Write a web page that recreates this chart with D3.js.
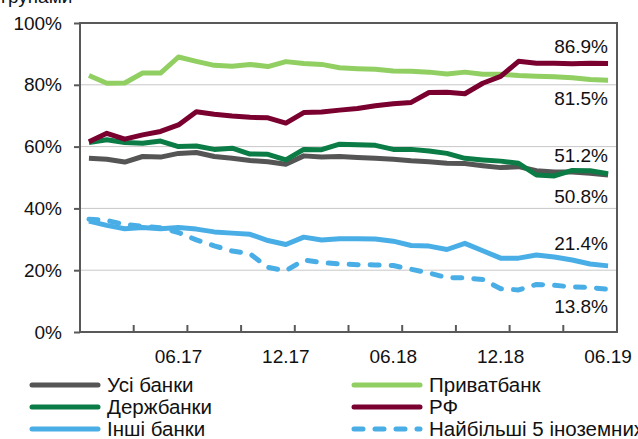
<!DOCTYPE html>
<html>
<head>
<meta charset="utf-8">
<script src="https://cdn.jsdelivr.net/npm/d3@7"></script>
<style>
  body { margin: 0; background: #fff; }
  svg text { font-family: "Liberation Sans", Arial, sans-serif; fill: #111; }
</style>
</head>
<body>
<div id="content"></div>
<script>
// months 01.17 .. 06.19
const months = [];
for (let y = 17; y <= 19; y++) {
    for (let m = 1; m <= 12; m++) {
        if (y === 19 && m > 6) break;
        months.push((m < 10 ? '0' + m : '' + m) + '.' + y);
    }
}
const xLabels = ['06.17', '12.17', '06.18', '12.18', '06.19'];
const yTicks = [0, 20, 40, 60, 80, 100];

const seriesNames = ['Усі банки', 'Приватбанк', 'Держбанки', 'РФ', 'Інші банки', 'Найбільші 5 іноземних'];
const usiBanky = [56.2, 55.9, 55.0, 56.8, 56.6, 57.8, 58.1, 56.8, 56.2, 55.5, 55.1, 54.3, 57.0, 56.6, 56.8, 56.5, 56.2, 55.9, 55.4, 55.1, 54.6, 54.5, 53.8, 53.2, 53.5, 52.2, 51.8, 51.8, 51.4, 50.8];
const pryvatbank = [83.0, 80.5, 80.6, 83.8, 83.8, 89.0, 87.6, 86.3, 86.0, 86.6, 85.9, 87.5, 86.9, 86.6, 85.5, 85.2, 85.0, 84.5, 84.4, 84.1, 83.5, 84.1, 83.4, 83.4, 83.0, 82.8, 82.6, 82.3, 81.7, 81.5];
const derzhbanky = [61.3, 62.2, 61.3, 61.1, 61.8, 60.0, 60.2, 59.1, 59.5, 57.6, 57.5, 55.7, 59.1, 59.0, 60.8, 60.6, 60.4, 59.1, 59.1, 58.6, 57.8, 56.2, 55.7, 55.3, 54.6, 50.8, 50.5, 52.3, 52.2, 51.2];
const rf = [61.6, 64.3, 62.4, 63.8, 64.9, 67.0, 71.3, 70.5, 69.9, 69.5, 69.3, 67.6, 71.0, 71.2, 71.8, 72.3, 73.2, 73.9, 74.3, 77.5, 77.6, 77.1, 80.5, 82.7, 87.6, 87.0, 87.0, 86.8, 87.0, 86.9];
const inshiBanky = [35.9, 34.5, 33.4, 33.8, 33.4, 33.8, 33.3, 32.4, 32.0, 31.6, 29.6, 28.3, 30.7, 29.8, 30.2, 30.2, 30.1, 29.4, 28.0, 27.8, 26.7, 28.7, 26.3, 23.9, 23.9, 24.9, 24.3, 23.3, 22.0, 21.4];
const top5Foreign = [36.5, 36.1, 34.8, 34.2, 33.7, 32.2, 29.8, 27.9, 26.2, 25.3, 20.9, 19.8, 23.3, 22.5, 22.0, 21.8, 21.7, 21.5, 20.3, 19.1, 17.6, 17.5, 17.0, 14.0, 13.6, 15.4, 15.1, 14.6, 14.4, 13.8];

const allSeries = [usiBanky, pryvatbank, derzhbanky, rf, inshiBanky, top5Foreign];
const colors = ['#555555', '#92cf63', '#0b7c45', '#7a0030', '#4aaee6', '#4aaee6'];
const dashed = [false, false, false, false, false, true];
// end-label placement: above (-) or below (+) the last point
const labelOffset = [28, 25, -12, -10, -16, 24];

window.addEventListener('load', function () {
    let width = 638;
    let height = 439;
    let left = 80, right = 617, top = 23, bottom = 332;

    let svg = d3.select('#content').append('svg').attr('width', width).attr('height', height);

    let xScale = d3.scaleBand().domain(months).range([left, right]);
    let yScale = d3.scaleLinear().domain([0, 100]).range([bottom, top]);
    let cx = m => xScale(m) + xScale.bandwidth() / 2;

    // title fragment, cut off at the top like the source
    svg.append('text').text('групами').attr('x', 1).attr('y', 3).style('font-size', '19px');

    // gridlines
    svg.append('g').selectAll('line').data(yTicks.filter(d => d > 0 && d < 100)).enter().append('line')
        .attr('x1', left).attr('x2', right)
        .attr('y1', d => yScale(d)).attr('y2', d => yScale(d))
        .attr('stroke', '#c8c8c8').attr('stroke-width', 1);

    // y axis
    let yAxis = d3.axisLeft(yScale).tickValues(yTicks).tickFormat(d => d + '%').tickSize(6).tickPadding(12);
    let gy = svg.append('g').attr('transform', `translate(${left},0)`).call(yAxis);
    gy.select('.domain').remove();
    gy.selectAll('.tick line').attr('stroke', '#595959').attr('stroke-width', 2);
    gy.selectAll('.tick text').style('font-size', '19px').attr('fill', '#111');

    // frame
    svg.append('rect').attr('x', left).attr('y', top).attr('width', right - left).attr('height', bottom - top)
        .attr('fill', 'none').attr('stroke', '#595959').attr('stroke-width', 2);

    // x ticks at band boundaries every 3 months, pointing inward
    let tickMonths = months.filter((m, i) => i > 0 && i % 3 === 0);
    svg.append('g').selectAll('line').data(tickMonths).enter().append('line')
        .attr('x1', d => xScale(d)).attr('x2', d => xScale(d))
        .attr('y1', bottom).attr('y2', bottom - 7)
        .attr('stroke', '#595959').attr('stroke-width', 2);

    svg.append('g').selectAll('text').data(xLabels).enter().append('text')
        .attr('x', d => cx(d)).attr('y', 363)
        .attr('text-anchor', 'middle').style('font-size', '19px')
        .text(d => d);

    // lines
    let line = d3.line().x((d, i) => cx(months[i])).y(d => yScale(d));
    allSeries.forEach((s, k) => {
        svg.append('path').datum(s)
            .attr('d', line)
            .attr('fill', 'none')
            .attr('stroke', colors[k])
            .attr('stroke-width', 5)
            .attr('stroke-linejoin', 'round')
            .attr('stroke-linecap', dashed[k] ? 'round' : 'butt')
            .attr('stroke-dasharray', dashed[k] ? '9,12' : null);
    });

    // end labels
    allSeries.forEach((s, k) => {
        let last = s[s.length - 1];
        svg.append('text')
            .attr('x', 608)
            .attr('y', yScale(last) + labelOffset[k])
            .attr('text-anchor', 'end')
            .style('font-size', '19px')
            .text(last.toFixed(1) + '%');
    });

    // legend
    let legend = svg.append('g');
    seriesNames.forEach((name, k) => {
        let col = k % 2, row = Math.floor(k / 2);
        let x0 = col === 0 ? 30 : 352;
        let y0 = 385 + row * 22;
        legend.append('line')
            .attr('x1', x0 + 2).attr('x2', x0 + 68)
            .attr('y1', y0).attr('y2', y0)
            .attr('stroke', colors[k]).attr('stroke-width', 5)
            .attr('stroke-linecap', 'round')
            .attr('stroke-dasharray', dashed[k] ? '9,12' : null);
        legend.append('text')
            .attr('x', x0 + 77).attr('y', y0 + 7)
            .style('font-size', '20.5px')
            .text(name);
    });
});
</script>
</body>
</html>
